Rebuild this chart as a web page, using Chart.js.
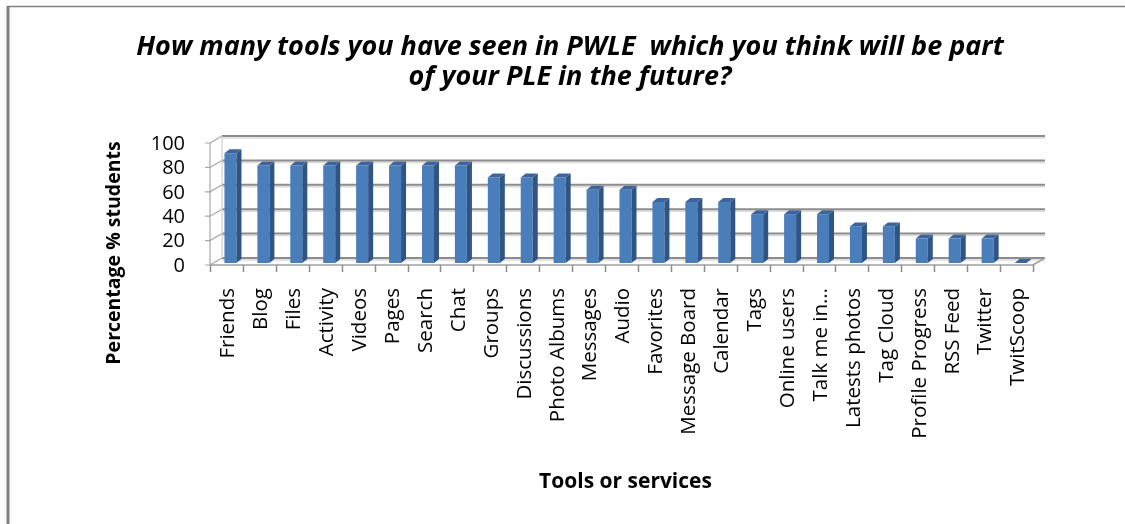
<!DOCTYPE html>
<html>
<head>
<meta charset="utf-8">
<script src="https://cdn.jsdelivr.net/npm/chart.js@4.4.1/dist/chart.umd.min.js"></script>
<style>
  html, body { margin: 0; padding: 0; background: #ffffff; }
  #wrap { width: 1125px; height: 524px; position: relative; }
</style>
</head>
<body>
<div id="wrap"><canvas id="c" width="1125" height="524"></canvas></div>
<script>
// Survey results: share of students expecting each PWLE tool in their future PLE
const categories = ["Friends", "Blog", "Files", "Activity", "Videos", "Pages", "Search", "Chat",
  "Groups", "Discussions", "Photo Albums", "Messages", "Audio", "Favorites", "Message Board",
  "Calendar", "Tags", "Online users", "Talk me in…", "Latests photos", "Tag Cloud",
  "Profile Progress", "RSS Feed", "Twitter", "TwitScoop"];
const percentStudents = [90, 80, 80, 80, 80, 80, 80, 80, 70, 70, 70, 60, 60, 50, 50, 50,
  40, 40, 40, 30, 30, 20, 20, 20, 0];
const yTicks = [0, 20, 40, 60, 80, 100];
const titleLines = ["How many tools you have seen in PWLE  which you think will be part",
  "of your PLE in the future?"];
const yAxisTitle = "Percentage % students";
const xAxisTitle = "Tools or services";

// depth offsets of the pseudo-3D box, relative to the plane the bars stand in
const BACK = { dx: 8, dy: -5 };
const FRONT = { dx: -4, dy: 2 };
const BAR_DEPTH = { dx: 5, dy: -4 };

const FONT = "'Open Sans', Lato, sans-serif";

// Outer frame, back wall, floor and the front axes of the 3D box
const boxPlugin = {
  id: 'box3d',
  beforeDatasetsDraw(chart) {
    const ctx = chart.ctx;
    const { left, right } = chart.chartArea;
    const ys = chart.scales.y;
    const n = categories.length;
    const cat = (right - left) / n;
    ctx.save();

    // frame
    ctx.strokeStyle = '#808080';
    ctx.lineWidth = 3;
    ctx.beginPath(); ctx.moveTo(8, 6); ctx.lineTo(8, 524); ctx.stroke();
    ctx.lineWidth = 1.5;
    ctx.beginPath(); ctx.moveTo(7, 6.5); ctx.lineTo(1125, 6.5); ctx.stroke();

    // back wall gridlines
    yTicks.forEach(v => {
      const y = ys.getPixelForValue(v) + BACK.dy;
      ctx.strokeStyle = '#dadada';
      ctx.lineWidth = 1.5;
      ctx.beginPath(); ctx.moveTo(left + BACK.dx, y + 2); ctx.lineTo(right + BACK.dx, y + 2); ctx.stroke();
      ctx.strokeStyle = '#8c8c8c';
      ctx.lineWidth = 2;
      ctx.beginPath(); ctx.moveTo(left + BACK.dx, y); ctx.lineTo(right + BACK.dx, y); ctx.stroke();
    });

    // left side wall: diagonals from the front axis to the back wall, plus tick marks
    ctx.strokeStyle = '#a6a6a6';
    ctx.lineWidth = 1.2;
    yTicks.forEach(v => {
      const yb = ys.getPixelForValue(v);
      ctx.beginPath();
      ctx.moveTo(left + FRONT.dx - 5, yb + FRONT.dy);
      ctx.lineTo(left + FRONT.dx, yb + FRONT.dy);
      ctx.lineTo(left + BACK.dx, yb + BACK.dy);
      ctx.stroke();
    });
    ctx.strokeStyle = '#d0d0d0';
    ctx.beginPath();
    ctx.moveTo(left + BACK.dx, ys.getPixelForValue(100) + BACK.dy);
    ctx.lineTo(left + BACK.dx, ys.getPixelForValue(0) + BACK.dy);
    ctx.stroke();
    ctx.strokeStyle = '#a6a6a6';
    ctx.beginPath();
    ctx.moveTo(left + FRONT.dx, ys.getPixelForValue(100) + FRONT.dy);
    ctx.lineTo(left + FRONT.dx, ys.getPixelForValue(0) + FRONT.dy);
    ctx.stroke();

    // floor: front edge, right edge, category tick marks
    const yf = ys.getPixelForValue(0) + FRONT.dy;
    const yk = ys.getPixelForValue(0) + BACK.dy;
    ctx.strokeStyle = '#a0a0a0';
    ctx.lineWidth = 1.5;
    ctx.beginPath();
    ctx.moveTo(left + FRONT.dx, yf);
    ctx.lineTo(right + FRONT.dx, yf);
    ctx.lineTo(right + BACK.dx, yk);
    ctx.stroke();
    ctx.strokeStyle = '#8c8c8c';
    ctx.lineWidth = 1.5;
    for (let i = 0; i <= n; i++) {
      const x = Math.round(left + FRONT.dx + i * cat) + 0.5;
      ctx.beginPath(); ctx.moveTo(x, yf); ctx.lineTo(x, yf + 7); ctx.stroke();
    }
    ctx.restore();
  }
};

// Side and top faces of each column
const columnPlugin = {
  id: 'columns3d',
  afterDatasetsDraw(chart) {
    const ctx = chart.ctx;
    const meta = chart.getDatasetMeta(0);
    ctx.save();
    meta.data.forEach(bar => {
      const p = bar.getProps(['x', 'y', 'base', 'width'], true);
      const l = p.x - p.width / 2, r = p.x + p.width / 2;
      const t = Math.min(p.y, p.base), b = p.base;
      const { dx, dy } = BAR_DEPTH;
      // side
      ctx.fillStyle = '#2f5585';
      ctx.beginPath();
      ctx.moveTo(r, t); ctx.lineTo(r + dx, t + dy); ctx.lineTo(r + dx, b + dy); ctx.lineTo(r, b);
      ctx.closePath(); ctx.fill();
      // top
      ctx.fillStyle = '#3c669b';
      ctx.beginPath();
      ctx.moveTo(l, t); ctx.lineTo(l + dx, t + dy); ctx.lineTo(r + dx, t + dy); ctx.lineTo(r, t);
      ctx.closePath(); ctx.fill();
    });
    ctx.restore();
  }
};

// Chart title and value-axis title
const textPlugin = {
  id: 'texts',
  afterDraw(chart) {
    const ctx = chart.ctx;
    ctx.save();
    ctx.fillStyle = '#000000';
    ctx.textAlign = 'center';
    ctx.textBaseline = 'alphabetic';
    ctx.font = "italic bold 27px " + FONT;
    ctx.fillText(titleLines[0], 570, 55);
    ctx.fillText(titleLines[1], 570, 85);

    ctx.font = "bold 19.5px " + FONT;
    ctx.translate(114, 253);
    ctx.rotate(-Math.PI / 2);
    ctx.textBaseline = 'middle';
    ctx.fillText(yAxisTitle, 0, 0);
    ctx.restore();
  }
};

new Chart(document.getElementById('c'), {
  type: 'bar',
  data: {
    labels: categories,
    datasets: [{
      data: percentStudents,
      backgroundColor: '#4a7ebb',
      borderWidth: 0,
      barPercentage: 0.365,
      categoryPercentage: 1.0
    }]
  },
  options: {
    responsive: false,
    animation: false,
    devicePixelRatio: 1,
    layout: { padding: { left: 0, top: 141, right: 88, bottom: 0 } },
    plugins: {
      legend: { display: false },
      tooltip: { enabled: false },
      title: { display: false }
    },
    scales: {
      x: {
        grid: { display: false, drawTicks: false },
        border: { display: false },
        ticks: {
          autoSkip: false,
          minRotation: 90,
          maxRotation: 90,
          padding: 25,
          labelOffset: -2,
          color: '#000000',
          font: { family: FONT, size: 20.5 }
        },
        title: {
          display: true,
          text: xAxisTitle,
          color: '#000000',
          font: { family: FONT, size: 21, weight: 'bold' },
          padding: { top: 0, bottom: 29 }
        },
        afterFit(scale) { scale.height = 261; }
      },
      y: {
        min: 0,
        max: 100,
        grid: { display: false, drawTicks: false },
        border: { display: false },
        afterBuildTicks(scale) { scale.ticks = yTicks.map(v => ({ value: v })); },
        ticks: {
          autoSkip: false,
          padding: 29,
          labelOffset: 3,
          color: '#000000',
          font: { family: FONT, size: 20 }
        },
        afterFit(scale) { scale.width = 214; }
      }
    }
  },
  plugins: [boxPlugin, columnPlugin, textPlugin]
});
</script>
</body>
</html>
